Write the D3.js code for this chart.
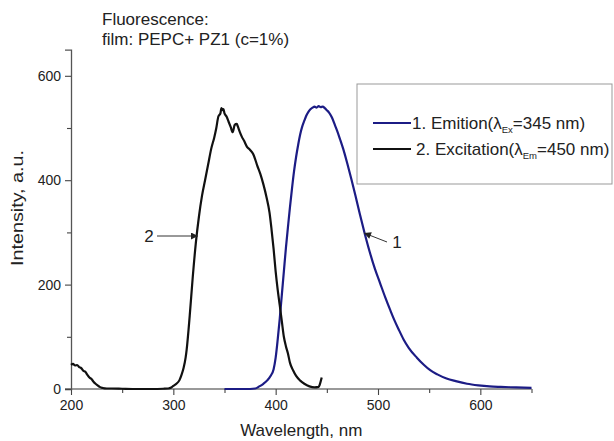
<!DOCTYPE html>
<html>
<head>
<meta charset="utf-8">
<script src="https://cdn.jsdelivr.net/npm/d3@7"></script>
<style>
  body { margin: 0; background: #fff; }
  svg text { font-family: "Liberation Sans", Arial, sans-serif; fill: #222; }
</style>
</head>
<body>
<div id="chart"></div>
<script>
// wavelength (nm) / intensity pairs
const emitNm = [350, 360, 370, 380, 384, 388, 392, 395, 398, 400, 402, 404, 406, 408, 410, 412, 414, 416, 418, 420,
  422, 424, 426, 428, 430, 432, 434, 436, 438, 440, 442, 444, 446, 448, 450, 452, 455, 458, 460, 463,
  466, 470, 474, 478, 482, 487, 492, 497, 502, 507, 512, 516, 520, 525, 530, 538, 545, 551, 558, 567,
  576, 587, 598, 609, 620, 635, 650];
const emitVal = [0, 0, 0, 1, 5, 10, 17, 25, 38, 60, 95, 135, 180, 225, 270, 310, 349, 385, 418, 445,
  468, 488, 503, 514, 524, 531, 536, 539, 541, 539, 542, 540, 541, 538, 534, 530, 520, 505, 495, 478,
  460, 432, 402, 370, 337, 298, 262, 230, 203, 176, 151, 132, 115, 95, 79, 60, 46, 36, 28, 20,
  15, 10, 7, 5, 4, 3, 2];

const excNm = [200, 202, 204, 206, 208, 210, 212, 214, 216, 218, 220, 222, 224, 226, 228, 231, 235, 240, 250, 260,
  270, 280, 290, 295, 298, 300, 303, 306, 308, 310, 312, 313, 316, 319, 322, 325, 328, 331, 334, 337,
  340, 342, 344, 346, 347, 348, 349, 350, 352, 354, 356, 358, 360, 362, 363, 365, 367, 369, 372, 375,
  378, 380, 382, 385, 388, 391, 394, 396, 398, 400, 402, 404, 406, 408, 410, 412, 414, 417, 420, 424,
  428, 433, 438, 442, 443, 445];
const excVal = [46, 48, 45, 46, 42, 40, 35, 33, 27, 22, 19, 14, 10, 7, 4, 2, 1, 1, 0.5, 0,
  0, 0, 0.5, 1, 3, 6, 10, 17, 27, 40, 60, 75, 140, 215, 280, 330, 370, 400, 430, 460,
  482, 500, 522, 528, 538, 534, 536, 528, 522, 512, 502, 492, 506, 508, 503, 492, 483, 476, 464, 458,
  450, 440, 428, 412, 392, 368, 338, 305, 268, 225, 190, 160, 130, 100, 82, 68, 50, 36, 25, 16,
  10, 5, 3, 4, 8, 22];

const xTicks = [200, 300, 400, 500, 600];
const xMinor = [250, 350, 450, 550, 650];
const yTicks = [0, 200, 400, 600];
const yMinor = [100, 300, 500];

const W = 614, H = 441;
const svg = d3.select("#chart").append("svg").attr("width", W).attr("height", H);

const x = d3.scaleLinear().domain([200, 650]).range([71, 531.5]);
const y = d3.scaleLinear().domain([0, 650]).range([389, 49.7]);

svg.append("defs").append("marker")
    .attr("id", "arr").attr("viewBox", "0 0 10 10")
    .attr("refX", 10).attr("refY", 5)
    .attr("markerWidth", 9).attr("markerHeight", 7)
    .attr("markerUnits", "userSpaceOnUse")
    .attr("orient", "auto")
  .append("path").attr("d", "M0,0L10,5L0,10Z").attr("fill", "#222");

// axes
const gx = svg.append("g").attr("transform", "translate(0," + y(0) + ")");
gx.call(d3.axisBottom(x).tickValues(xTicks).tickSize(6).tickPadding(5).tickFormat(d3.format("d")));
const gxm = svg.append("g").attr("transform", "translate(0," + y(0) + ")");
gxm.call(d3.axisBottom(x).tickValues(xMinor).tickSize(4).tickFormat(""));
gxm.select(".domain").remove();

const gy = svg.append("g").attr("transform", "translate(" + x(200) + ",0)");
gy.call(d3.axisLeft(y).tickValues(yTicks).tickSize(6).tickPadding(4).tickFormat(d3.format("d")));
const gym = svg.append("g").attr("transform", "translate(" + x(200) + ",0)");
gym.call(d3.axisLeft(y).tickValues(yMinor).tickSize(4).tickFormat(""));
gym.select(".domain").remove();

svg.selectAll(".domain").attr("stroke", "#555").attr("stroke-width", 1.3);
gx.select(".domain").attr("d", "M" + (x(200) - 6) + ",0H" + x(650)).attr("stroke", "#777");
svg.selectAll(".tick line").attr("stroke", "#444").attr("stroke-width", 1.1);
svg.selectAll(".tick text").style("font-size", "14px").attr("fill", "#222");

// curves
const line = d3.line().curve(d3.curveMonotoneX).x(d => x(d[0])).y(d => y(d[1]));
svg.append("path")
    .datum(emitNm.map((n, i) => [n, emitVal[i]]))
    .attr("d", line).attr("fill", "none")
    .attr("stroke", "#1c1c85").attr("stroke-width", 2.2).attr("stroke-linejoin", "round");
svg.append("path")
    .datum(excNm.map((n, i) => [n, excVal[i]]))
    .attr("d", line).attr("fill", "none")
    .attr("stroke", "#111").attr("stroke-width", 2.2).attr("stroke-linejoin", "round");

// axis titles
svg.append("text").attr("x", (x(200) + x(650)) / 2).attr("y", 436)
    .attr("text-anchor", "middle").style("font-size", "17px").text("Wavelength, nm");
svg.append("text").attr("transform", "translate(23,208) rotate(-90)")
    .attr("text-anchor", "middle").style("font-size", "17px")
    .attr("textLength", 116).attr("lengthAdjust", "spacingAndGlyphs")
    .text("Intensity, a.u.");

// title
svg.append("text").attr("x", 102).attr("y", 25).style("font-size", "17px").text("Fluorescence:");
svg.append("text").attr("x", 102).attr("y", 45).style("font-size", "17px").text("film: PEPC+ PZ1 (c=1%)");

// legend
svg.append("rect").attr("x", 357).attr("y", 84).attr("width", 255).attr("height", 100)
    .attr("fill", "none").attr("stroke", "#999").attr("stroke-width", 1);
const legend = [
  {label: "1. Emition(", sub: "Ex", tail: "=345 nm)", color: "#1c1c85", y: 123, tx: 412},
  {label: "2. Excitation(", sub: "Em", tail: "=450 nm)", color: "#111", y: 149, tx: 416}
];
legend.forEach(d => {
  svg.append("line").attr("x1", 373).attr("x2", 411).attr("y1", d.y).attr("y2", d.y)
      .attr("stroke", d.color).attr("stroke-width", 2.2);
  const t = svg.append("text").attr("x", d.tx).attr("y", d.y + 6).style("font-size", "17px");
  t.append("tspan").text(d.label);
  t.append("tspan").text("λ");
  t.append("tspan").attr("dy", 4).style("font-size", "9.5px").text(d.sub);
  t.append("tspan").attr("dy", -4).text(d.tail);
});

// curve annotations
svg.append("text").attr("x", 149).attr("y", 242).attr("text-anchor", "middle").style("font-size", "17px").text("2");
svg.append("line").attr("x1", 157).attr("y1", 236).attr("x2", 198).attr("y2", 236)
    .attr("stroke", "#333").attr("stroke-width", 1).attr("marker-end", "url(#arr)");
svg.append("text").attr("x", 397).attr("y", 248).attr("text-anchor", "middle").style("font-size", "17px").text("1");
svg.append("line").attr("x1", 387).attr("y1", 242).attr("x2", 364).attr("y2", 233)
    .attr("stroke", "#333").attr("stroke-width", 1).attr("marker-end", "url(#arr)");
</script>
</body>
</html>
